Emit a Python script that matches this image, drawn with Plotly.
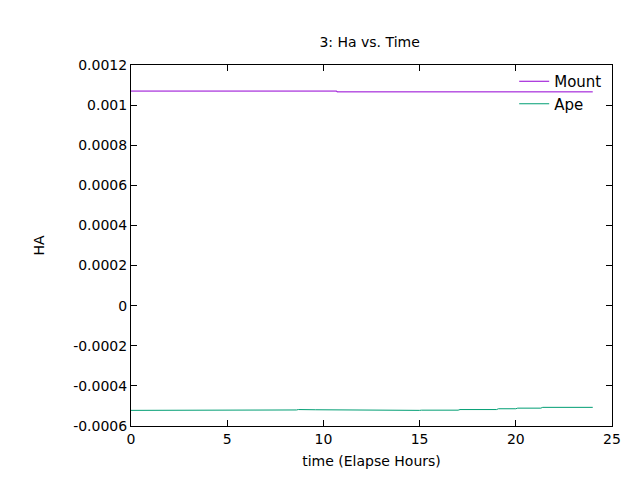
import plotly.graph_objects as go

mount_t = [0, 10.7, 10.7, 24]
mount_v = [0.00107, 0.00107, 0.001066, 0.001066]

ape_t = [0, 0.3, 0.4, 0.7, 0.8, 1.1, 1.2, 1.6, 1.7, 3.0, 3.1, 6.4, 6.5, 7.5, 7.6, 8.6, 8.7, 9.5, 9.6, 15.0, 15.1, 17.0, 17.1, 19.0, 19.1, 20.0, 20.1, 21.3, 21.4, 24.0]
ape_v = [-0.000522, -0.000522, -0.000520, -0.000520, -0.000522, -0.000522, -0.000520, -0.000520, -0.000522, -0.000522, -0.000521, -0.000521, -0.000519, -0.000519, -0.000520, -0.000520, -0.000518, -0.000518, -0.000519, -0.000522, -0.000521, -0.000521, -0.000518, -0.000518, -0.000514, -0.000514, -0.000511, -0.000511, -0.000507, -0.000507]

fig = go.Figure()
fig.add_trace(go.Scatter(x=mount_t, y=mount_v, mode="lines", name="Mount", line=dict(color="#9400d3", width=1)))
fig.add_trace(go.Scatter(x=ape_t, y=ape_v, mode="lines", name="Ape", line=dict(color="#009e73", width=1)))

ax = dict(showgrid=False, zeroline=False, showline=True, linecolor="black", linewidth=1, mirror="ticks", ticks="inside", ticklen=6,
          tickcolor="black", automargin=False, tickfont=dict(size=14))
fig.update_layout(
    width=640, height=480, template="none",
    paper_bgcolor="white", plot_bgcolor="white",
    font=dict(family="DejaVu Sans", size=14, color="black"),
    margin=dict(l=123, r=36, t=57, b=62, autoexpand=False),
    title=dict(text="3: Ha vs. Time", x=0.565, xanchor="center", y=0.94, font=dict(size=14)),
    xaxis=dict(ax, range=[0, 25], dtick=5, title=dict(text="time (Elapse Hours)", standoff=10, font=dict(size=14))),
    yaxis=dict(ax, range=[-0.0006, 0.0012], tickvals=[-0.0006, -0.0004, -0.0002, 0, 0.0002, 0.0004, 0.0006, 0.0008, 0.001, 0.0012],
               ticktext=["-0.0006", "-0.0004", "-0.0002", "0", "0.0002", "0.0004", "0.0006", "0.0008", "0.001", "0.0012"],
               title=dict(text="HA", standoff=25, font=dict(size=14))),
    legend=dict(x=0.99, y=1.0, xanchor="right", yanchor="top", bgcolor="rgba(0,0,0,0)", tracegroupgap=0, font=dict(size=15)),
)
fig.write_html("out.html")
